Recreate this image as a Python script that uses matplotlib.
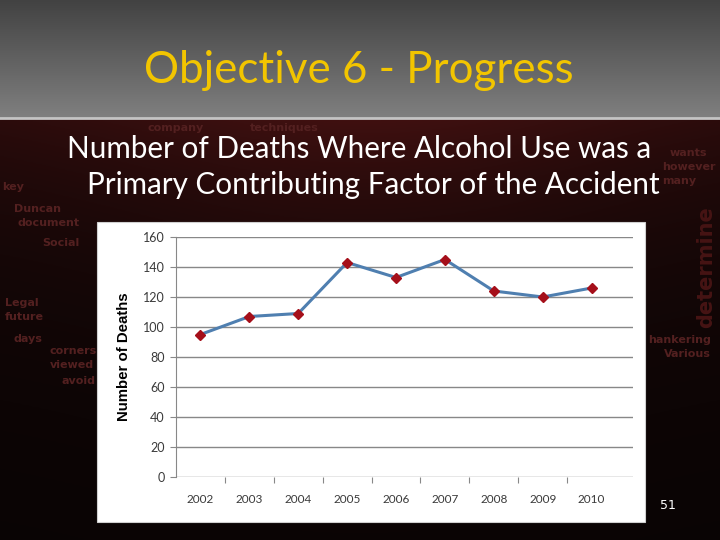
import numpy as np
import matplotlib.pyplot as plt
from matplotlib.patches import Rectangle

# data
years = ['2002', '2003', '2004', '2005', '2006', '2007', '2008', '2009', '2010']
deaths = [95, 107, 109, 143, 133, 145, 124, 120, 126]
y_ticks = [0, 20, 40, 60, 80, 100, 120, 140, 160]

title = 'Objective 6 - Progress'
subtitle_1 = 'Number of Deaths Where Alcohol Use was a'
subtitle_2 = 'Primary Contributing Factor of the Accident'

slide_font = ['Lato', 'DejaVu Sans']
tick_font = ['Lato', 'DejaVu Sans']

W, H = 720, 540
fig = plt.figure(figsize=(7.2, 5.4), dpi=100)
renderer = fig.canvas.get_renderer()


def fit_width(txt, width_px):
    # shrink / grow a text so it spans about width_px pixels
    for _ in range(3):
        w = txt.get_window_extent(renderer).width
        txt.set_fontsize(txt.get_fontsize() * width_px / w)


# slide background, drawn in pixel coordinates
bg = fig.add_axes([0, 0, 1, 1])
bg.set_xlim(0, W)
bg.set_ylim(H, 0)
bg.axis('off')

# grey title bar
t = np.linspace(0, 1, 120)[:, None, None]
bar = np.array([0.26, 0.26, 0.26]) + np.array([0.24, 0.24, 0.24]) * t
bg.imshow(bar, extent=(0, W, 118, 0), aspect='auto', zorder=0)

# dark red lower part
yy = np.linspace(0, 1, 200)[:, None]
xx = np.linspace(0, 1, 300)[None, :]
glow = 0.22 * np.exp(-yy / 0.35) * (0.55 + 0.45 * np.exp(-((xx - 0.5) / 0.4) ** 2))
low = np.dstack([0.03 + glow, 0.015 + glow * 0.22, 0.015 + glow * 0.22])
bg.imshow(low, extent=(0, W, H, 118), aspect='auto', zorder=0)
bg.plot([0, W], [118, 118], color='#c4c4c4', lw=2, zorder=1)

# faint word cloud at the edges of the slide
words = [('company', 148, 131), ('techniques', 250, 131), ('key', 2, 190),
         ('Duncan', 14, 212), ('document', 18, 226), ('Social', 42, 246),
         ('Legal', 5, 306), ('future', 5, 320), ('days', 14, 342),
         ('corners', 50, 354), ('viewed', 50, 368), ('avoid', 62, 384),
         ('wants', 670, 156), ('however', 662, 170), ('many', 662, 184),
         ('hankering', 648, 343), ('Various', 664, 357)]
for w, x, y in words:
    bg.text(x, y, w, fontsize=8, color='#532020', ha='left', va='baseline',
            fontweight='bold', zorder=1)
bg.text(706, 328, 'determine', fontsize=15, color='#461414', rotation=90,
        ha='center', va='bottom', fontweight='bold', zorder=1)

# title and subtitle
t1 = bg.text(359, 83, title, fontsize=30, color='#f2c500', ha='center',
             va='baseline', family=slide_font, zorder=2)
fit_width(t1, 428)
s1 = bg.text(67, 158, subtitle_1, fontsize=21, color='white', ha='left',
             va='baseline', family=slide_font, zorder=2)
fit_width(s1, 583)
s2 = bg.text(87, 194, subtitle_2, fontsize=21, color='white', ha='left',
             va='baseline', family=slide_font, zorder=2)
fit_width(s2, 573)
bg.text(668, 509, '51', fontsize=9, color='white', ha='center',
        va='baseline', zorder=2)

# white chart box
bg.add_patch(Rectangle((97, 222), 548, 300, facecolor='white',
                       edgecolor='#d0d0d0', lw=0.8, zorder=2))

# the line chart
ax = fig.add_axes([176 / W, (H - 477) / H, (633 - 176) / W, 240 / H])
ax.set_facecolor('none')
x = np.arange(len(years))
ax.plot(x, deaths, color='#4f7fb0', lw=2.2, zorder=3)
ax.plot(x, deaths, ls='none', marker='D', ms=5.5, color='#a50f1a', zorder=4)

ax.set_ylim(0, 160)
ax.set_yticks(y_ticks)
ax.set_xlim(-0.5, 8.5 + 17 / 49)
ax.yaxis.grid(True, color='#888888', lw=1)
ax.set_axisbelow(True)

# category labels at centres, small ticks at the boundaries
ax.set_xticks(np.arange(0.5, 8, 1))
ax.set_xticklabels([])
ax.set_xticks(x, minor=True)
ax.set_xticklabels(years, minor=True)
ax.tick_params(axis='x', which='major', length=4, color='#888888', direction='out')
ax.tick_params(axis='x', which='minor', length=0, pad=12, labelsize=8.5,
               labelcolor='#3a3a3a')
ax.tick_params(axis='y', length=4, color='#888888', pad=4, labelsize=9,
               labelcolor='#3a3a3a')
for lab in ax.get_xticklabels(minor=True) + ax.get_yticklabels():
    lab.set_family(tick_font)

for s in ['top', 'right', 'bottom']:
    ax.spines[s].set_visible(False)
ax.spines['left'].set_color('#888888')

fig.text(124 / W, 1 - 357 / H, 'Number of Deaths', rotation=90, fontsize=10.8,
         fontweight='bold', family=['Liberation Sans', 'DejaVu Sans'],
         ha='center', va='center', color='black')

fig.savefig('out.png', dpi=100)
